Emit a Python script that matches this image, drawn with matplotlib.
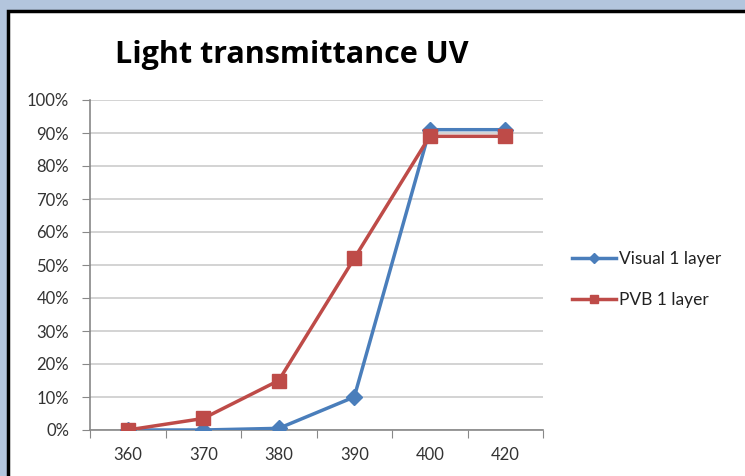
import matplotlib.pyplot as plt
from matplotlib.patches import Rectangle
from matplotlib.ticker import PercentFormatter

wavelengths = ["360", "370", "380", "390", "400", "420"]
visual_1 = [0.0, 0.0, 0.005, 0.10, 0.91, 0.91]
pvb_1 = [0.0, 0.035, 0.15, 0.52, 0.89, 0.89]

plt.rcParams["font.family"] = ["Lato", "DejaVu Sans"]

fig = plt.figure(figsize=(7.45, 4.76), dpi=100)
fig.patch.set_facecolor("#b3c5dd")

# white chart panel with black frame (runs off the right/bottom edge)
W, H = 745, 476
fig.patches.append(Rectangle((8 / W, -0.1), 1.2, 1.1 - 11 / H, transform=fig.transFigure,
                             facecolor="white", edgecolor="black", linewidth=2.5, zorder=-10))

ax = fig.add_axes([90 / W, (H - 430) / H, (543 - 90) / W, (430 - 100) / H])
ax.set_facecolor("white")

x = range(len(wavelengths))
ax.plot(x, visual_1, color="#4a7ebb", lw=2.5, marker="D", ms=8.5,
        label="Visual 1 layer", zorder=3)
ax.plot(x, pvb_1, color="#be4b48", lw=2.5, marker="s", ms=10.5,
        label="PVB 1 layer", zorder=4)

ax.set_xlim(-0.5, len(wavelengths) - 0.5)
ax.set_ylim(0, 1)
ax.set_yticks([i / 10 for i in range(11)])
ax.yaxis.set_major_formatter(PercentFormatter(1.0, decimals=0))
ax.set_xticks([i - 0.5 for i in range(len(wavelengths) + 1)])
ax.set_xticklabels([])
ax.set_xticks(list(x), minor=True)
ax.set_xticklabels(wavelengths, minor=True)
ax.tick_params(axis="x", which="minor", length=0, pad=12)
ax.tick_params(axis="x", which="major", length=6, color="#888888", direction="out")
ax.tick_params(axis="y", length=6, color="#888888", pad=9)
ax.tick_params(which="both", labelsize=12, labelcolor="#333333")
ax.grid(axis="y", color="#cccccc", lw=1.2)
ax.set_axisbelow(True)
for s in ["top", "right"]:
    ax.spines[s].set_visible(False)
for s in ["left", "bottom"]:
    ax.spines[s].set_color("#888888")
    ax.spines[s].set_linewidth(1.2)

fig.text(115 / W, 1 - 55 / H, "Light transmittance UV", fontsize=22, fontweight="bold",
         family="Open Sans", va="center", ha="left")

leg = ax.legend(loc="center left", bbox_to_anchor=(1.03, 0.455), frameon=False,
                fontsize=12.5, handlelength=2.5, labelspacing=1.45, handletextpad=0.2,
                markerscale=0.6)
for t in leg.get_texts():
    t.set_color("#222222")

fig.savefig("out.png", dpi=100, facecolor=fig.get_facecolor())
